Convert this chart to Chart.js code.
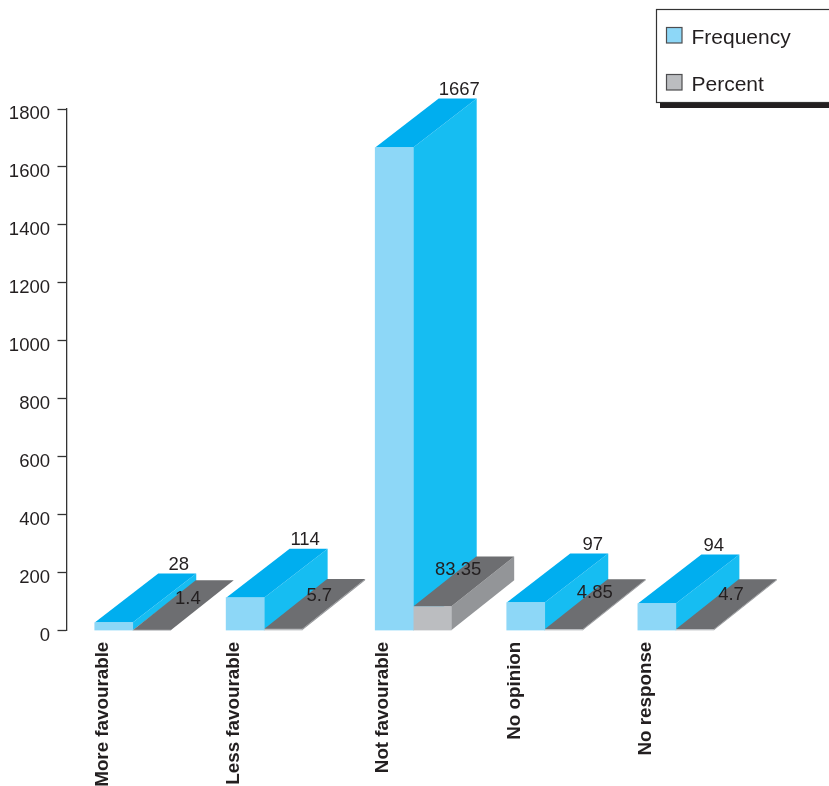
<!DOCTYPE html>
<html>
<head>
<meta charset="utf-8">
<style>html,body{margin:0;padding:0;background:#fff}#w{width:829px;height:786px;position:relative}</style>
<script src="https://cdn.jsdelivr.net/npm/chart.js@4/dist/chart.umd.min.js"></script>
</head>
<body>
<div id="w"><canvas id="c" width="829" height="786"></canvas></div>
<script>
const categories = ["More favourable","Less favourable","Not favourable","No opinion","No response"];
const groupPositions = [0, 1.003, 2.141, 3.145, 4.146];
const frequency = [28, 114, 1667, 97, 94];
const percent = [1.4, 5.7, 83.35, 4.85, 4.7];
const percentLabels = ["1.4","5.7","83.35","4.85","4.7"];
const yTicks = [0,200,400,600,800,1000,1200,1400,1600,1800];

const TEXT = '#231f20';
const FONT = 'Liberation Sans, Arial, sans-serif';
const styles = [
  {front:'#8dd7f7', top:'#00aeef', side:'#16bdf2', ex:63.5, ey:49},
  {front:'#bbbdc0', top:'#6d6e71', side:'#939598', ex:63, ey:50}
];
const freqLabelDx = [65,60,65,67,57];
const pctLabelDy = [-31,-33,-37,-36,-34];

function poly(ctx, pts, fill){
  ctx.beginPath();
  pts.forEach((p,i)=> i?ctx.lineTo(p[0],p[1]):ctx.moveTo(p[0],p[1]));
  ctx.closePath();
  ctx.fillStyle = fill; ctx.fill();
}

const bars3d = {
  id:'bars3d',
  beforeDraw(chart){
    const ctx = chart.ctx;
    ctx.save();
    ctx.fillStyle = '#231f20';
    ctx.fillRect(660,102,169,6);
    ctx.fillStyle = '#fff';
    ctx.strokeStyle = '#333';
    ctx.lineWidth = 1.2;
    ctx.fillRect(656.5,9.5,190,93);
    ctx.strokeRect(656.5,9.5,190,93);
    ctx.restore();
  },
  afterLayout(chart){
    const l = chart.legend;
    const h = l.height, w = l.width;
    l.left = 639; l.top = 1.5; l.right = 639 + w; l.bottom = 1.5 + h;
  },
  beforeDatasetsDraw(chart){
    const ctx = chart.ctx;
    ctx.save();
    [0,1].forEach(d=>{
      const s = styles[d];
      chart.getDatasetMeta(d).data.forEach(b=>{
        const l = b.x - b.width/2, r = b.x + b.width/2, t = b.y, base = b.base;
        poly(ctx, [[r,t],[r+s.ex,t-s.ey],[r+s.ex,base-s.ey],[r,base]], s.side);
        poly(ctx, [[l,t],[l+s.ex,t-s.ey],[r+s.ex,t-s.ey],[r,t]], s.top);
      });
    });
    ctx.restore();
  },
  afterDraw(chart){
    const ctx = chart.ctx;
    ctx.save();
    ctx.strokeStyle = '#4d4d4f';
    ctx.lineWidth = 1.2;
    [27,74].forEach((y,i)=>{
      ctx.fillStyle = styles[i].front;
      ctx.fillRect(666.5,y+0.5,15.5,15.5);
      ctx.strokeRect(666.5,y+0.5,15.5,15.5);
    });
    ctx.restore();
  },
  afterDatasetsDraw(chart){
    const ctx = chart.ctx;
    ctx.save();
    ctx.font = '18.5px ' + FONT;
    ctx.fillStyle = TEXT;
    ctx.textBaseline = 'middle';
    ctx.textAlign = 'center';
    chart.getDatasetMeta(0).data.forEach((b,i)=>{
      ctx.fillText(String(frequency[i]), b.x + freqLabelDx[i], b.y - 58);
    });
    ctx.textAlign = 'right';
    chart.getDatasetMeta(1).data.forEach((b,i)=>{
      ctx.fillText(percentLabels[i], b.x + 49, b.y + pctLabelDy[i]);
    });
    ctx.restore();
  }
};

new Chart(document.getElementById('c'), {
  type:'bar',
  data:{
    datasets:[
      {label:'Frequency', data:groupPositions.map((x,i)=>({x,y:frequency[i]})), backgroundColor:styles[0].front, borderWidth:0},
      {label:'Percent', data:groupPositions.map((x,i)=>({x,y:percent[i]})), backgroundColor:styles[1].front, borderWidth:0}
    ]
  },
  options:{
    responsive:false,
    animation:false,
    devicePixelRatio:1,
    layout:{padding:{top:109,left:0,right:0,bottom:0}},
    barThickness:38,
    plugins:{
      tooltip:{enabled:false},
      legend:{
        position:'chartArea',
        align:'start',
        labels:{
          boxWidth:16, boxHeight:16, padding:26,
          color:TEXT,
          font:{family:FONT,size:21},
          generateLabels(chart){
            return chart.data.datasets.map((d,i)=>({
              text:d.label, fillStyle:'rgba(0,0,0,0)', strokeStyle:'rgba(0,0,0,0)', lineWidth:0, datasetIndex:i, fontColor:TEXT
            }));
          }
        }
      }
    },
    scales:{
      x:{
        type:'linear',
        offset:false,
        min:-0.5057, max:5.315,
        afterBuildTicks(s){ s.ticks = groupPositions.map(v=>({value:v})); },
        afterFit(s){ s.height = 155.3; },
        grid:{display:false},
        border:{display:false},
        ticks:{
          autoSkip:false, minRotation:90, maxRotation:90, labelOffset:-30, padding:3,
          color:TEXT, font:{family:FONT,size:18.8,weight:'bold'},
          callback(v,i){ return categories[i]; }
        }
      },
      y:{
        min:0, max:1800,
        afterBuildTicks(s){ s.ticks = yTicks.map(v=>({value:v})); },
        afterFit(s){ s.width = 66.5; },
        grid:{drawOnChartArea:false, tickLength:9, tickColor:'#333', tickWidth:1.3},
        border:{display:true,color:'#333',width:1.3},
        ticks:{padding:7.5, labelOffset:5, color:TEXT, font:{family:FONT,size:18.5}, callback(v){ return String(v); }}
      }
    }
  },
  plugins:[bars3d]
});
</script>
</body>
</html>
